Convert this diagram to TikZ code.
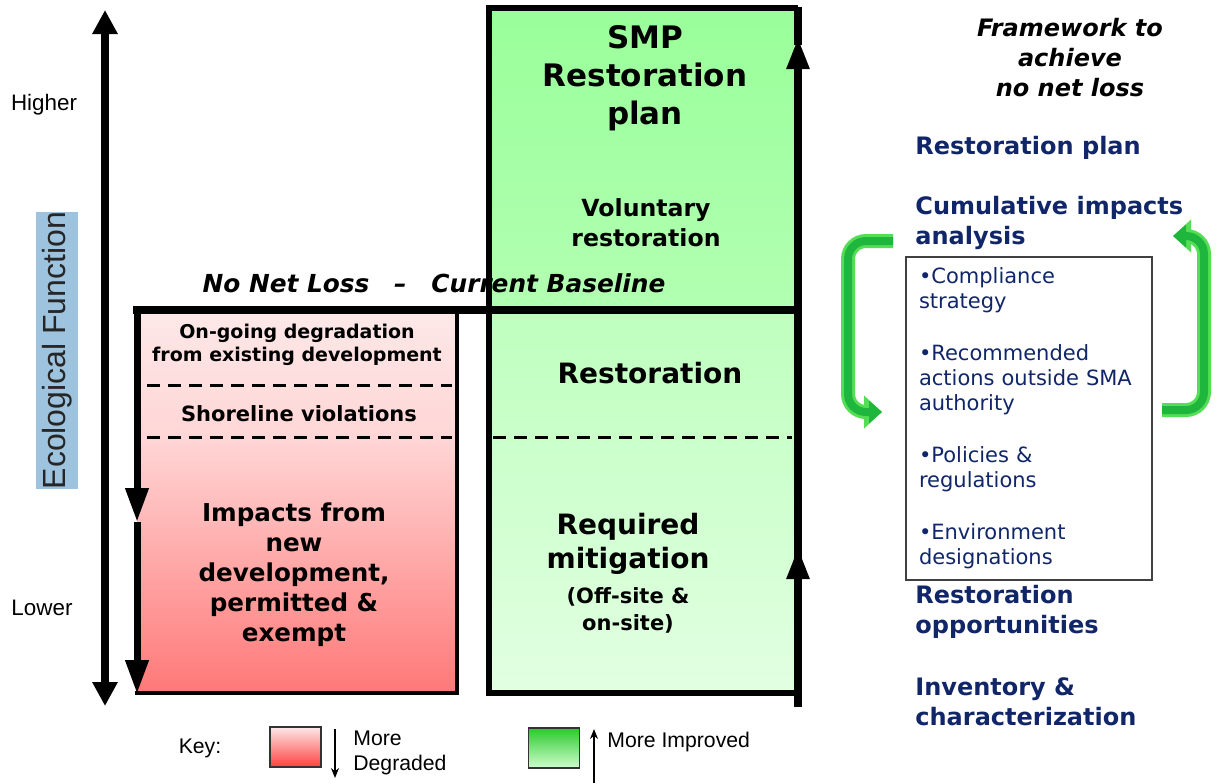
\documentclass[tikz,border=0pt]{standalone}
\usepackage{fontspec}
\setmainfont{DejaVu Sans}
\newfontfamily\arialfont{Liberation Sans}
\usetikzlibrary{positioning, arrows.meta}
\newcommand{\fsz}[2]{\fontsize{#1}{#2}\selectfont}
\definecolor{pinktop}{RGB}{253,232,232}
\definecolor{pinkmid}{RGB}{255,214,214}
\definecolor{pinkbot}{RGB}{255,120,120}
\definecolor{limetop}{RGB}{153,255,153}
\definecolor{limemid}{RGB}{178,255,178}
\definecolor{limelow}{RGB}{190,255,190}
\definecolor{limebot}{RGB}{226,255,226}
\definecolor{loopouter}{RGB}{85,222,85}
\definecolor{loopinner}{RGB}{30,182,60}
\definecolor{axisblue}{RGB}{157,195,222}
\definecolor{navy}{RGB}{16,38,105}
\tikzset{
	axisarrow/.style={line width=4pt, {Triangle[length=12pt,width=12pt]}-{Triangle[length=12pt,width=12pt]}}, % the ecological function axis
	downarrow/.style={line width=3.5pt, -{Triangle[length=17pt,width=11pt]}}, % left edge of the red box
	uparrow/.style={line width=4pt, -{Triangle[length=16pt,width=10.5pt]}}, % right edge of the green box
	keyarrow/.style={line width=0.8pt, -{Stealth[length=5pt,width=4pt]}},
	dashline/.style={line width=1.5pt, dash pattern=on 6.5pt off 4pt},
	loopout/.style={draw=loopouter, line width=7pt, rounded corners=9pt, -{Triangle[length=9pt,width=16pt]}},
	loopin/.style={draw=loopinner, line width=4pt, rounded corners=9pt, -{Triangle[length=6.5pt,width=11pt]}},
	boxtxt/.style={font=\bfseries, align=center, inner sep=0pt}, % texts inside the boxes
	head/.style={font=\bfseries\fsz{12}{15}, text=navy, anchor=west, align=left, inner sep=0pt},
	lbl/.style={font=\arialfont\fsz{11.2}{13}, inner sep=0pt},
	swatch/.style={draw=black!80, line width=0.6pt, minimum width=25.5pt, minimum height=20pt, inner sep=0pt},
	listbox/.style={draw=black!75, line width=0.7pt, text width=110pt, minimum height=161.5pt, inner xsep=6.5pt, align=left, text=navy, font=\fsz{10.5}{12.5}},
}
\begin{document}
\begin{tikzpicture}[x=0.5pt, y=-0.5pt]
	\useasboundingbox (0,0) rectangle (1221,783);
	% axis
	\coordinate (axtop) at (105,10);
	\coordinate (axbot) at (105,706);
	\draw[axisarrow] (axbot) -- (axtop);
	\node[lbl] (higher) at (44,105) {Higher};
	\node[lbl] (lower) at (42,608) {Lower};
	\node[rotate=90, fill=axisblue, text=black!85, font=\arialfont\fsz{16}{18}, inner xsep=0pt, inner ysep=1pt, minimum height=21pt] (ecol) at (57,350.5) {Ecological Function};

	% red box
	\shade[top color=pinktop, bottom color=pinkmid] (137,310) rectangle (457,437);
	\shade[top color=pinkmid, bottom color=pinkbot] (137,437) rectangle (457,693);
	\draw[line width=2pt] (457,310) -- (457,693) -- (135,693);
	\draw[dashline] (147,385) -- (452,385);
	\draw[dashline] (147,437) -- (452,437);
	\coordinate (rtop) at (137,306);
	\coordinate (rmid) at (137,522);
	\coordinate (rbot) at (137,694);
	\draw[downarrow] (rtop) -- (rmid);
	\draw[downarrow] (rmid) -- (rbot);
	\node[boxtxt, font=\bfseries\fsz{9.5}{11.5}] (ongoing) at (297,345) {On-going degradation\\from existing development};
	\node[boxtxt, font=\bfseries\fsz{10.5}{13}] (shore) at (299,414) {Shoreline violations};
	\node[boxtxt, font=\bfseries\fsz{12.3}{15}] (impacts) at (294,575) {Impacts from\\new\\development,\\permitted \&\\exempt};

	% green box
	\shade[top color=limetop, bottom color=limemid] (489,8) rectangle (798,310);
	\shade[top color=limelow, bottom color=limebot] (489,310) rectangle (798,693);
	\draw[line width=3pt] (798,693) -- (489,693) -- (489,8) -- (798,8);
	\draw[line width=4pt] (798,6.5) -- (798,45);
	\draw[dashline] (493,437) -- (792,437);
	\coordinate (gbot) at (798,707);
	\coordinate (gmid) at (798,547);
	\coordinate (glow) at (798,580);
	\coordinate (gtop) at (798,37);
	\draw[uparrow] (gbot) -- (gmid);
	\draw[uparrow] (glow) -- (gtop);
	\node[boxtxt, font=\bfseries\fsz{15.5}{19}] (smp) at (645,78) {SMP\\Restoration\\plan};
	\node[boxtxt, font=\bfseries\fsz{11.8}{15}] (vol) at (646,223) {Voluntary\\restoration};
	\node[boxtxt, font=\bfseries\fsz{14}{17}] (rest) at (650,373) {Restoration};
	\node[boxtxt, font=\bfseries\fsz{14}{17}] (req) at (628,544) {Required\\mitigation};
	\node[boxtxt, font=\bfseries\fsz{10.5}{13.5}, below=6pt of req] (offsite) {(Off-site \&\\on-site)};

	% baseline
	\draw[line width=4pt] (133,310) -- (802,310);
	\node[font=\bfseries\itshape\fsz{12.4}{14}, inner sep=0pt] (nnl) at (434,283) {No Net Loss\quad--\quad Current Baseline};

	% key
	\node[lbl, font=\arialfont\fsz{10.6}{12.5}] (key) at (200,748) {Key:};
	\node[swatch, top color=pinktop, bottom color={rgb,255:red,255;green,64;blue,64}] (redkey) at (295.5,747) {};
	\coordinate (dtop) at (335,729);
	\coordinate (dbot) at (335,778);
	\draw[keyarrow] (dtop) -- (dbot);
	\node[lbl, font=\arialfont\fsz{10.6}{12.5}, anchor=west, align=left] (degraded) at (353,752.5) {More\\Degraded};
	\node[swatch, top color={rgb,255:red,45;green,200;blue,45}, bottom color={rgb,255:red,205;green,255;blue,205}] (greenkey) at (554,748) {};
	\coordinate (ubot) at (594,783);
	\coordinate (utop) at (594,729);
	\draw[keyarrow] (ubot) -- (utop);
	\node[lbl, font=\arialfont\fsz{10.6}{12.5}, anchor=west] (improved) at (607,742) {More Improved};

	% framework column
	\node[font=\bfseries\itshape\fsz{12}{15}, align=center, inner sep=0pt] (frame) at (1070,58) {Framework to\\achieve\\no net loss};
	\node[head] (plan) at (915,148) {Restoration plan};
	\node[head] (cumul) at (915,223) {Cumulative impacts\\analysis};
	\node[listbox] (list) at (1029,418.5) {•Compliance\\strategy\\[13.5pt]•Recommended\\actions outside SMA\\authority\\[13.5pt]•Policies \&\\regulations\\[13.5pt]•Environment\\designations};
	\node[head] (opps) at (915,612) {Restoration\\opportunities};
	\node[head] (inv) at (915,701.5) {Inventory \&\\characterization};

	% feedback loops
	\coordinate (lstart) at (893,241);
	\coordinate (lend) at (882,412);
	\coordinate (rstart) at (1162,410);
	\coordinate (rend) at (1173,236);
	\draw[loopout] (lstart) -- (848,241) -- (848,412) -- (lend);
	\draw[loopin] (lstart) -- (848,241) -- (848,412) -- (lend);
	\draw[loopout] (rstart) -- (1204,410) -- (1204,236) -- (rend);
	\draw[loopin] (rstart) -- (1204,410) -- (1204,236) -- (rend);
\end{tikzpicture}
\end{document}
